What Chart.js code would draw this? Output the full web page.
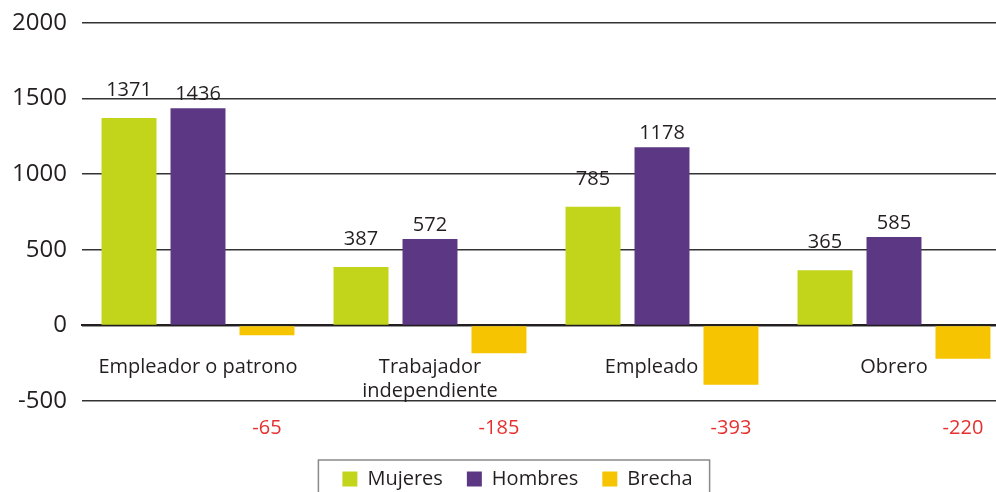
<!DOCTYPE html>
<html>
<head>
<meta charset="utf-8">
<script src="https://cdn.jsdelivr.net/npm/chart.js@4"></script>
<style>
  html, body { margin: 0; padding: 0; background: #fff; overflow: hidden; }
  #wrap { position: relative; width: 1035px; height: 499px; }
</style>
</head>
<body>
<div id="wrap"><canvas id="chart"></canvas></div>
<script>
const categories = ['Empleador o patrono', ['Trabajador', 'independiente'], 'Empleado    ', 'Obrero'];
const mujeres = [1371, 387, 785, 365];
const hombres = [1436, 572, 1178, 585];
const brecha = [-65, -185, -393, -220];
const yTicks = [-500, 0, 500, 1000, 1500, 2000];

const FONT = "'Open Sans', sans-serif";
const TEXT = '#231f20';

// numbers above the positive bars, gap values in red under the plot
const valueLabels = {
  id: 'valueLabels',
  afterDatasetsDraw(chart) {
    const { ctx, chartArea } = chart;
    ctx.save();
    ctx.font = '20px ' + FONT;
    ctx.textAlign = 'center';
    ctx.textBaseline = 'alphabetic';
    chart.data.datasets.forEach((ds, i) => {
      chart.getDatasetMeta(i).data.forEach((bar, j) => {
        const v = ds.data[j];
        if (v < 0) {
          ctx.fillStyle = '#e5312f';
          ctx.fillText(String(v), bar.x, chartArea.bottom + 33);
        } else {
          ctx.fillStyle = TEXT;
          ctx.fillText(String(v), bar.x, bar.y - ds.labelGap);
        }
      });
    });
    ctx.restore();
  }
};

// thin grey frame around the legend row
const legendFrame = {
  id: 'legendFrame',
  afterDraw(chart) {
    const boxes = chart.legend && chart.legend.legendHitBoxes;
    if (!boxes || !boxes.length) return;
    const first = boxes[0], last = boxes[boxes.length - 1];
    const { ctx } = chart;
    ctx.save();
    ctx.strokeStyle = '#8a8a8a';
    ctx.lineWidth = 1.5;
    const x0 = first.left - 24, x1 = last.left + last.width + 17, y0 = first.top - 9;
    ctx.strokeRect(x0, y0, x1 - x0, chart.height + 10 - y0);
    ctx.restore();
  }
};

function draw() {
  new Chart(document.getElementById('chart'), {
    type: 'bar',
    data: {
      labels: categories,
      datasets: [
        { label: 'Mujeres', data: mujeres, backgroundColor: '#c3d51b', labelGap: 22 },
        { label: 'Hombres', data: hombres, backgroundColor: '#5c3884', labelGap: 8 },
        { label: 'Brecha', data: brecha, backgroundColor: '#f6c400', labelGap: 8 },
      ],
    },
    options: {
      responsive: true,
      maintainAspectRatio: false,
      animation: false,
      events: [],
      categoryPercentage: 0.892,
      barPercentage: 0.797,
      borderWidth: 0,
      layout: { padding: { top: 23, right: 0, left: 0, bottom: 0 } },
      plugins: {
        tooltip: { enabled: false },
        legend: {
          position: 'bottom',
          labels: {
            color: TEXT,
            font: { size: 20, family: FONT },
            boxWidth: 15,
            boxHeight: 15,
            padding: 24,
          },
        },
      },
      scales: {
        x: {
          position: { y: 0 },
          grid: { display: false },
          border: { display: true, color: '#231f20', width: 2 },
          ticks: {
            color: TEXT,
            font: { size: 20, family: FONT },
            padding: 22,
            maxRotation: 0,
            autoSkip: false,
          },
        },
        // empty strip between the plot and the legend
        gap: {
          type: 'category',
          axis: 'x',
          position: 'bottom',
          grid: { display: false },
          border: { display: false },
          ticks: { display: false },
          afterFit: s => { s.height = 44; },
        },
        y: {
          min: -500,
          max: 2000,
          afterBuildTicks: s => { s.ticks = yTicks.map(v => ({ value: v })); },
          afterFit: s => { s.width = 82; },
          // invisible tick marks keep the labels clear of the lines
          grid: { color: '#333', lineWidth: 1.5, drawTicks: true, tickLength: 15, tickColor: 'rgba(0,0,0,0)' },
          border: { display: false },
          ticks: {
            color: TEXT,
            font: { size: 24, family: FONT },
            padding: 0,
            callback: v => String(v),
          },
        },
        // blank margin on the right of the plot
        edge: {
          type: 'linear',
          axis: 'y',
          position: 'right',
          grid: { display: false },
          border: { display: false },
          ticks: { display: false },
          afterFit: s => { s.width = 25; },
        },
      },
    },
    plugins: [valueLabels, legendFrame],
  });
}

document.fonts.load("20px 'Open Sans'").then(draw, draw);
</script>
</body>
</html>
